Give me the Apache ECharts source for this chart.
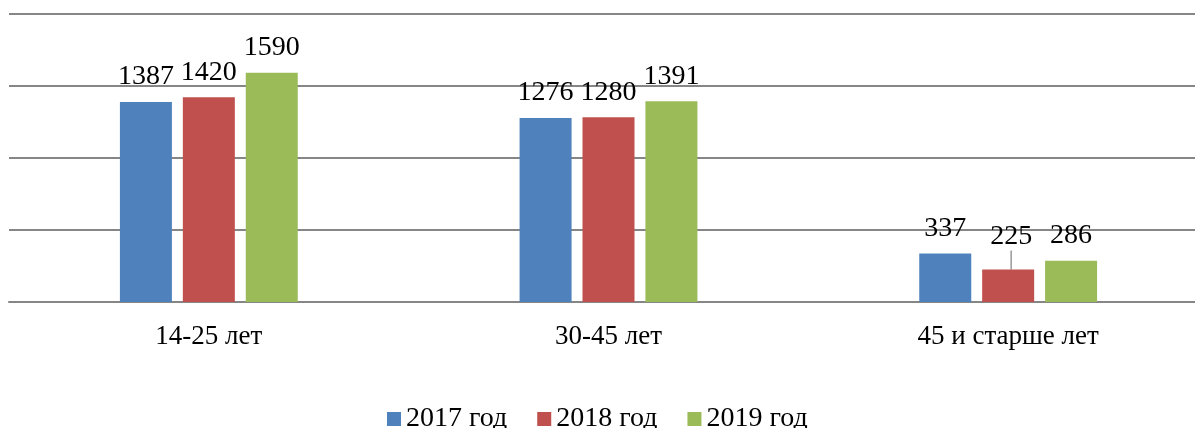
<!DOCTYPE html>
<html>
<head>
<meta charset="utf-8">
<script src="https://cdn.jsdelivr.net/npm/echarts@6/dist/echarts.min.js"></script>
<style>
html,body{margin:0;padding:0;background:#fff;overflow:hidden;width:1195px;height:428px;}
#chart{width:1210px;height:428px;}
</style>
</head>
<body>
<div id="chart"></div>
<script>
const categories = ['14-25 лет', '30-45 лет', '45 и старше лет'];
const seriesNames = ['2017 год', '2018 год', '2019 год'];
const values2017 = [1387, 1276, 337];
const values2018 = [1420, 1280, 225];
const values2019 = [1590, 1391, 286];
const colors = ['#4F81BD', '#C0504D', '#9BBB59'];
const FONT = '"Liberation Serif", "Times New Roman", serif';

const chart = echarts.init(document.getElementById('chart'));
function mk(name, data, color, idx) {
  const s = {
    name: name,
    type: 'bar',
    data: data,
    barWidth: 52,
    barGap: '21%',
    itemStyle: { color: color },
    labelLine: { show: false },
    label: {
      show: true, position: 'top', distance: 11,
      fontFamily: FONT, fontSize: 28, color: '#000'
    }
  };
  if (idx === 1) {
    s.data = data.map(function (v, i) {
      return i === 2 ? { value: v, labelLine: { show: true, lineStyle: { color: '#999', width: 1.5 } } } : v;
    });
    s.labelLayout = function (p) {
      if (p.dataIndex === 2) return { dx: 3, dy: -8 };
      return {};
    };
  }
  return s;
}
chart.setOption({
  animation: false,
  color: colors,
  grid: { left: 9, top: 13.5, right: 2, bottom: 126, containLabel: false },
  legend: {
    top: 400, left: 382,
    itemWidth: 14, itemHeight: 14, itemGap: 30,
    icon: 'rect',
    textStyle: { fontFamily: FONT, fontSize: 28, color: '#000', padding: [0, 0, 0, 0] },
    data: seriesNames
  },
  xAxis: {
    type: 'category', data: categories,
    axisLine: { lineStyle: { color: '#868686', width: 2 } },
    axisTick: { show: false },
    axisLabel: { fontFamily: FONT, fontSize: 27, color: '#000', margin: 21 }
  },
  yAxis: {
    type: 'value', min: 0, max: 2000, interval: 500,
    axisLabel: { show: false }, axisLine: { show: false }, axisTick: { show: false },
    splitLine: { lineStyle: { color: '#868686', width: 2 } }
  },
  series: [
    mk(seriesNames[0], values2017, colors[0], 0),
    mk(seriesNames[1], values2018, colors[1], 1),
    mk(seriesNames[2], values2019, colors[2], 2)
  ]
});
</script>
</body>
</html>
